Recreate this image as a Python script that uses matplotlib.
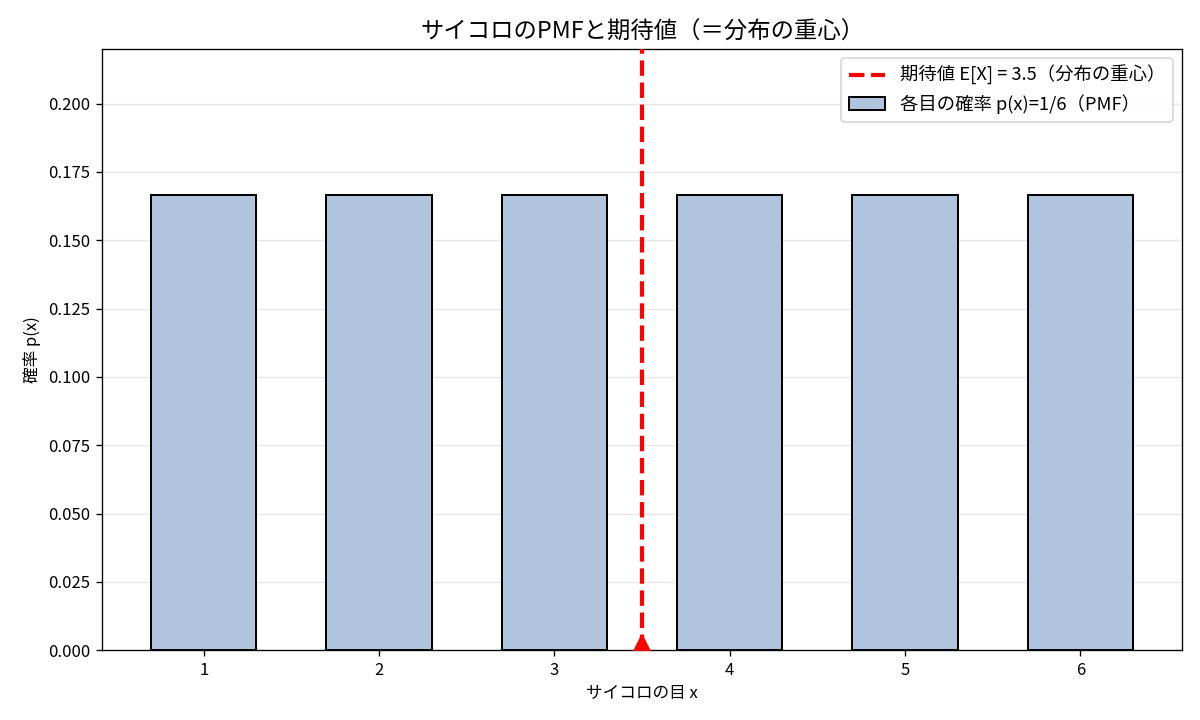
import numpy as np
import matplotlib
matplotlib.use("Agg")
import matplotlib.pyplot as plt

plt.rcParams['font.family'] = ['Noto Sans CJK JP', 'DejaVu Sans']

faces = [1, 2, 3, 4, 5, 6]
probs = [1/6] * 6
expected = 3.5


def main():
    fig, ax = plt.subplots(figsize=(10, 6), dpi=120)

    ax.bar(faces, probs, width=0.6, color="lightsteelblue", edgecolor="black",
           linewidth=1.2, label="各目の確率 p(x)=1/6（PMF）", zorder=2)
    ax.axvline(expected, color="red", linestyle="--", linewidth=2.5,
               label=f"期待値 E[X] = {expected}（分布の重心）", zorder=3)
    ax.plot([expected], [0], marker="^", color="red", markersize=18, zorder=4)

    ax.set_xticks(faces)
    ax.set_ylim(0, 0.22)
    ax.grid(axis="y", alpha=0.3)
    ax.set_axisbelow(True)

    ax.set_title("サイコロのPMFと期待値（＝分布の重心）", fontsize=14)
    ax.set_xlabel("サイコロの目 x")
    ax.set_ylabel("確率 p(x)")
    ax.legend(loc="upper right", fontsize=11)

    fig.subplots_adjust(left=0.085, right=0.985, top=0.932, bottom=0.097)
    fig.savefig("out.png")


if __name__ == "__main__":
    main()
